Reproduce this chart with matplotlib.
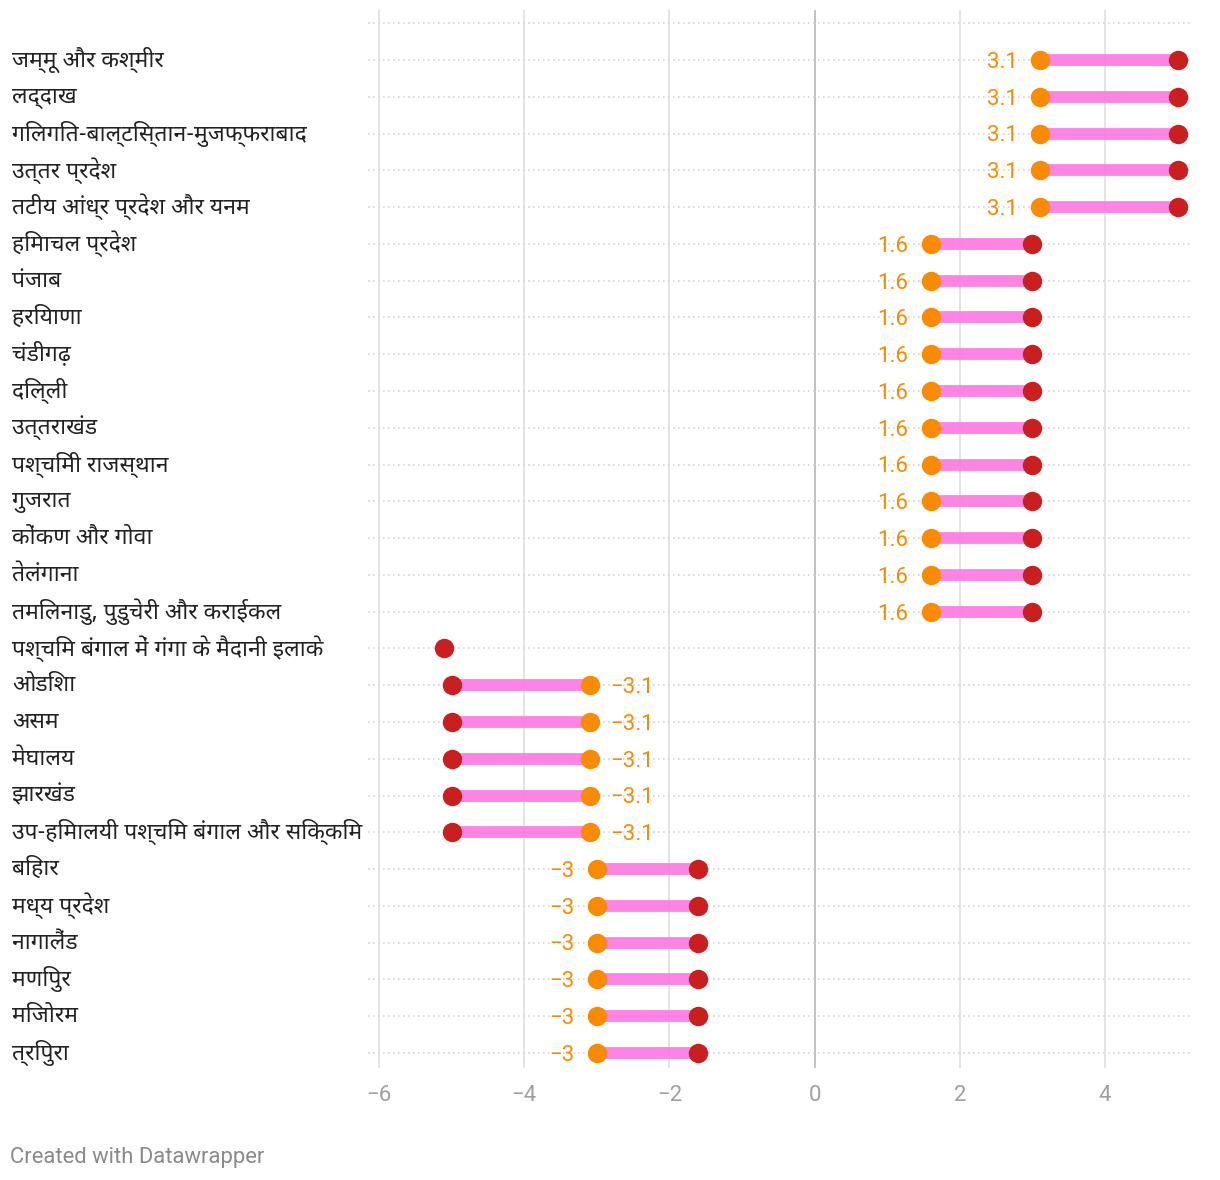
import matplotlib
matplotlib.use("Agg")
import matplotlib.pyplot as plt
import matplotlib.transforms as mtransforms
import numpy as np

regions = [
    "जम्मू और कश्मीर", "लद्दाख", "गिलगित-बाल्टिस्तान-मुजफ्फराबाद", "उत्तर प्रदेश",
    "तटीय आंध्र प्रदेश और यनम", "हिमाचल प्रदेश", "पंजाब", "हरियाणा", "चंडीगढ़",
    "दिल्ली", "उत्तराखंड", "पश्चिमी राजस्थान", "गुजरात", "कोंकण और गोवा", "तेलंगाना",
    "तमिलनाडु, पुडुचेरी और कराईकल", "पश्चिम बंगाल में गंगा के मैदानी इलाके", "ओडिशा",
    "असम", "मेघालय", "झारखंड", "उप-हिमालयी पश्चिम बंगाल और सिक्किम", "बिहार",
    "मध्य प्रदेश", "नागालैंड", "मणिपुर", "मिजोरम", "त्रिपुरा",
]
start_vals = [3.1, 3.1, 3.1, 3.1, 3.1,
              1.6, 1.6, 1.6, 1.6, 1.6, 1.6, 1.6, 1.6, 1.6, 1.6, 1.6,
              np.nan,
              -3.1, -3.1, -3.1, -3.1, -3.1,
              -3.0, -3.0, -3.0, -3.0, -3.0, -3.0]
end_vals = [5.0, 5.0, 5.0, 5.0, 5.0,
            3.0, 3.0, 3.0, 3.0, 3.0, 3.0, 3.0, 3.0, 3.0, 3.0, 3.0,
            -5.1,
            -5.0, -5.0, -5.0, -5.0, -5.0,
            -1.6, -1.6, -1.6, -1.6, -1.6, -1.6]
x_ticks = [-6, -4, -2, 0, 2, 4]

ORANGE = "#f98b00"
RED = "#c91f1f"
PINK = "#fd7de3"
HINDI = ["Noto Sans Devanagari", "Hind", "Mukta", "Roboto", "DejaVu Sans"]
LATIN = ["Roboto", "DejaVu Sans"]

W, H = 1220, 1180
fig = plt.figure(figsize=(W / 100, H / 100), dpi=100)
ax = fig.add_axes([368 / W, 1 - 1068 / H, 822 / W, 1058 / H])

n = len(regions)
ys = np.arange(n)
ax.set_xlim(-6.1515, 5.171)
ax.set_ylim(n - 1 + 0.41, -1.36)

# gridlines
for t in x_ticks:
    ax.axvline(t, color="#bdbdbd" if t == 0 else "#e2e2e2", lw=1.3, zorder=0)
for y in range(-1, n):
    ax.axhline(y, color="#d6d6d6", lw=1.2, ls=(0, (1, 2)), zorder=0.5)

VFS = 16
for y, s, e in zip(ys, start_vals, end_vals):
    if not np.isnan(s):
        ax.plot([s, e], [y, y], color=PINK, lw=8.5, solid_capstyle="butt", zorder=2, alpha=0.95)
    ax.plot([e], [y], "o", color=RED, ms=14, mec="none", zorder=3)
    if not np.isnan(s):
        ax.plot([s], [y], "o", color=ORANGE, ms=14, mec="none", zorder=4)
        lab = f"{s:g}".replace("-", "\u2212")
        dy = -0.711 * VFS / 2
        if s < e:
            ax.annotate(lab, (s, y), xytext=(-16, dy), textcoords="offset points",
                        ha="right", va="baseline", color=ORANGE, fontsize=VFS, family=LATIN)
        else:
            ax.annotate(lab, (s, y), xytext=(15, dy), textcoords="offset points",
                        ha="left", va="baseline", color=ORANGE, fontsize=VFS, family=LATIN)

trans = mtransforms.blended_transform_factory(fig.transFigure, ax.transData)
for y, name in zip(ys, regions):
    ax.text(12 / W, y, name, transform=trans, ha="left", va="center",
            fontsize=16.5, color="#222222", family=HINDI, clip_on=False)

ax.set_xticks(x_ticks)
ax.set_xticklabels([f"{t}".replace("-", "\u2212") for t in x_ticks],
                   family=LATIN, fontsize=16, color="#a0a0a0")
ax.tick_params(axis="x", length=0, pad=12)
ax.set_yticks([])
for sp in ax.spines.values():
    sp.set_visible(False)

fig.text(10 / W, 1 - 1157 / H, "Created with Datawrapper", ha="left", va="center",
         fontsize=15.8, color="#8a8a8a", family=LATIN)

fig.savefig("out.png", dpi=100, facecolor="white")
